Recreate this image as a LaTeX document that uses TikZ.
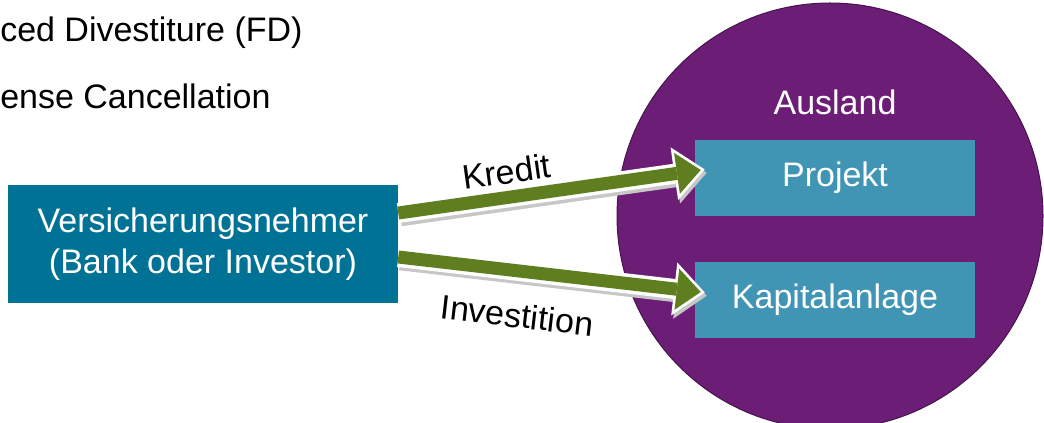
\documentclass[tikz,border=0pt]{standalone}
\usepackage{fontspec}
\setmainfont{Liberation Sans}
\usetikzlibrary{arrows.meta,calc,positioning}
\definecolor{vnblau}{RGB}{0,114,150}
\definecolor{hellblau}{RGB}{64,148,180}
\definecolor{lila}{RGB}{108,30,118}
\definecolor{gruen}{RGB}{94,126,32}

\begin{document}
\begin{tikzpicture}[x=0.75pt,y=-0.75pt,
    textstyle/.style={font=\fontsize{25.5}{30.75}\selectfont, inner sep=0},
    boxstyle/.style={textstyle, fill=#1, text=white, align=center},
    pfeil/.style={draw=gruen, line width=9.75pt,
        -{Triangle[length=18pt,width=31pt,line width=0pt]},
        preaction={draw=black!22, line width=15pt,
            -{Triangle[length=23pt,width=40pt,line width=0pt]}, shorten >=-3pt,
            transform canvas={shift={(1.5pt,-2.5pt)}}},
        preaction={draw=white, line width=15pt,
            -{Triangle[length=23pt,width=40pt,line width=0pt]}, shorten >=-3pt}}]
    \useasboundingbox (0,0) rectangle (1044,423);
    % heading lines, cut at the left
    \node[textstyle, anchor=west] (fd) at (0,33) {ced Divestiture (FD)};
    \node[textstyle, anchor=west] (lc) at (0,96) {ense Cancellation};
    % left box
    \node[boxstyle=vnblau, minimum width=292.5pt, minimum height=88.5pt] (vn) at (203,244)
        {Versicherungsnehmer\\(Bank oder Investor)};
    % foreign country
    \node[circle, fill=lila, draw=lila!65!black, line width=0.75pt, inner sep=0,
        minimum size=319.5pt] (ausland) at (830,216) {};
    \node[textstyle, text=white] (auslandtxt) at (835,102) {Ausland};
    \foreach \name/\y/\txt in {projekt/178/Projekt,kapital/300/Kapitalanlage} {
        \node[boxstyle=hellblau, minimum width=210pt, minimum height=57pt] (\name) at (835,\y) {\txt};
    }
    % flows
    \draw[pfeil] ($(vn.east)+(0,-31)$) -- node[textstyle, pos=0.37, sloped, above=5pt] (kredit) {Kredit}
        ($(projekt.west)+(6,-8)$);
    \draw[pfeil] ($(vn.east)+(0,13)$) -- node[textstyle, pos=0.41, sloped, below=19pt] (invest) {Investition}
        ($(kapital.west)+(6,-8)$);
\end{tikzpicture}
\end{document}
